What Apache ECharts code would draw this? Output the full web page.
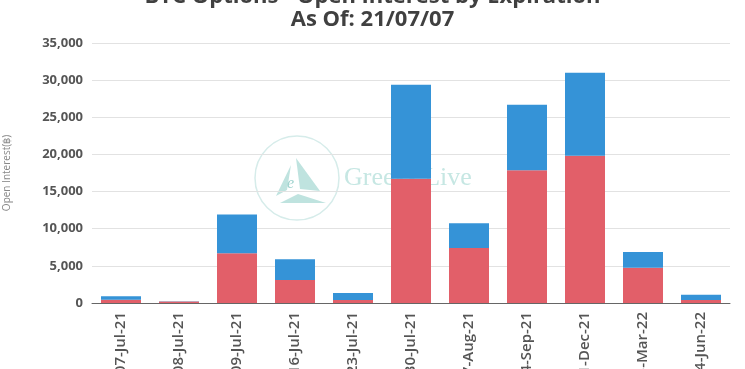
<!DOCTYPE html>
<html><head><meta charset="utf-8">
<script src="https://cdn.jsdelivr.net/npm/echarts@6/dist/echarts.min.js"></script>
<style>html,body{margin:0;padding:0;background:#fff}#c{width:745px;height:369px}</style>
</head><body><div id="c"></div>
<script>
const categories = ['07-Jul-21','08-Jul-21','09-Jul-21','16-Jul-21','23-Jul-21','30-Jul-21','27-Aug-21','24-Sep-21','31-Dec-21','25-Mar-22','24-Jun-22'];
const redValues  = [450, 200, 6700, 3100, 400, 16730, 7420, 17860, 19830, 4730, 390];
const blueValues = [450, 50, 5200, 2800, 950, 12640, 3320, 8820, 11150, 2150, 710];
const yTicks = [0, 5000, 10000, 15000, 20000, 25000, 30000, 35000];

const chart = echarts.init(document.getElementById('c'));
const wm = '#bfe3df';
chart.setOption({
  animation: false,
  title: {
    text: 'BTC Options - Open Interest by Expiration\nAs Of: 21/07/07',
    left: 'center', top: -20,
    textStyle: { fontFamily: 'Open Sans', fontWeight: 'bold', fontSize: 22, color: '#404040', lineHeight: 23 }
  },
  grid: { left: 92, right: 15, top: 43, bottom: 66, containLabel: false, outerBoundsMode: 'none' },
  graphic: [
    { type: 'circle', shape: { cx: 297, cy: 178, r: 42 }, style: { fill: 'none', stroke: '#d6ecea', lineWidth: 1.5 }, z: -1 },
    { type: 'polygon', shape: { points: [[276, 196], [291, 165], [287, 190]] }, style: { fill: wm }, z: -1 },
    { type: 'polygon', shape: { points: [[296, 158], [320, 191], [300, 189]] }, style: { fill: wm }, z: -1 },
    { type: 'polygon', shape: { points: [[280, 203], [298, 194], [326, 203]] }, style: { fill: wm }, z: -1 },
    { type: 'text', style: { text: 'e', x: 287, y: 176, font: 'italic 16px "Liberation Serif"', fill: '#9fd3ce' }, z: -1 },
    { type: 'text', style: { text: 'Greeks.Live', x: 344, y: 165, font: '26px "Liberation Serif"', fill: '#c6e7e3' }, z: -1 }
  ],
  xAxis: {
    type: 'category', data: categories,
    axisLine: { lineStyle: { color: '#666' } },
    axisTick: { lineStyle: { color: '#666' } },
    axisLabel: { rotate: 90, margin: 9, fontFamily: 'Open Sans', fontSize: 15, fontWeight: 600, color: '#555', interval: 0 }
  },
  yAxis: {
    type: 'value', min: 0, max: 35000, interval: 5000,
    name: 'Open Interest(฿)', nameLocation: 'middle', nameGap: 80, nameRotate: 90,
    nameTextStyle: { fontFamily: 'Open Sans', fontSize: 10, color: '#888' },
    axisLine: { show: false }, axisTick: { show: false },
    splitLine: { lineStyle: { color: '#e2e2e2' } },
    axisLabel: { margin: 9, fontFamily: 'Open Sans', fontSize: 13, fontWeight: 'bold', color: '#555',
      formatter: v => yTicks.includes(v) ? v.toLocaleString('en-US') : '' }
  },
  series: [
    { name: 'Puts', type: 'bar', stack: 'oi', data: redValues, barWidth: 40, itemStyle: { color: '#e25f69' } },
    { name: 'Calls', type: 'bar', stack: 'oi', data: blueValues, barWidth: 40, itemStyle: { color: '#3593d7' } }
  ]
});
</script></body></html>
